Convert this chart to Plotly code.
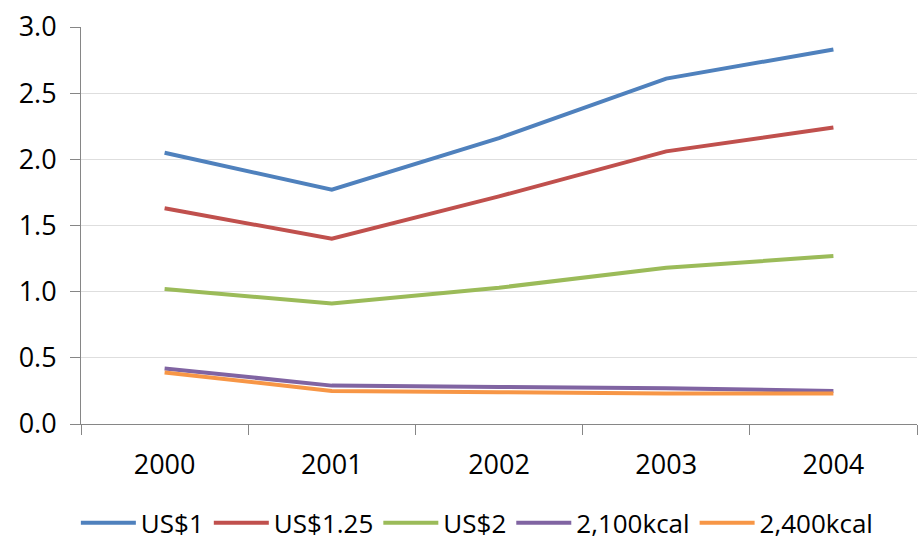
import plotly.graph_objects as go

years = ["2000", "2001", "2002", "2003", "2004"]
series_names = ["US$1", "US$1.25", "US$2", "2,100kcal", "2,400kcal"]
us1 = [2.05, 1.77, 2.16, 2.61, 2.83]
us125 = [1.63, 1.40, 1.72, 2.06, 2.24]
us2 = [1.02, 0.91, 1.03, 1.18, 1.27]
kcal2100 = [0.42, 0.29, 0.28, 0.27, 0.25]
kcal2400 = [0.39, 0.25, 0.24, 0.23, 0.23]
colors = ["#4F81BD", "#C0504D", "#9BBB59", "#8064A2", "#F79646"]

fig = go.Figure()
for name, vals, col in zip(series_names, [us1, us125, us2, kcal2100, kcal2400], colors):
    fig.add_trace(go.Scatter(
        x=years, y=vals, name=name, mode="lines",
        line=dict(color=col, width=4),
    ))

font_family = "Open Sans, Liberation Sans, sans-serif"

fig.update_layout(
    width=918, height=542,
    margin=dict(l=81, r=1, t=27, b=118, autoexpand=False),
    paper_bgcolor="white", plot_bgcolor="white",
    font=dict(family=font_family, size=26, color="#000000"),
    showlegend=True,
    legend=dict(
        orientation="h", x=0.52, xanchor="center", xref="container",
        y=-0.19, yanchor="top",
        font=dict(size=26), tracegroupgap=0, itemwidth=55,
    ),
    xaxis=dict(
        type="category", range=[-0.5, 4.5],
        showline=True, linecolor="#868686", linewidth=1,
        ticks="outside", tickson="boundaries", ticklen=10, tickcolor="#868686",
        showgrid=False, ticklabelstandoff=17, tickangle=0,
        tickfont=dict(size=27),
    ),
    yaxis=dict(
        range=[0, 3.0], dtick=0.5, tickformat=".1f",
        showline=True, linecolor="#868686", linewidth=1,
        ticks="outside", ticklen=10, tickcolor="#868686",
        showgrid=True, gridcolor="#dedede", gridwidth=1,
        zeroline=False, ticklabelstandoff=8,
        tickfont=dict(size=27),
    ),
)

fig.write_html("out.html")
